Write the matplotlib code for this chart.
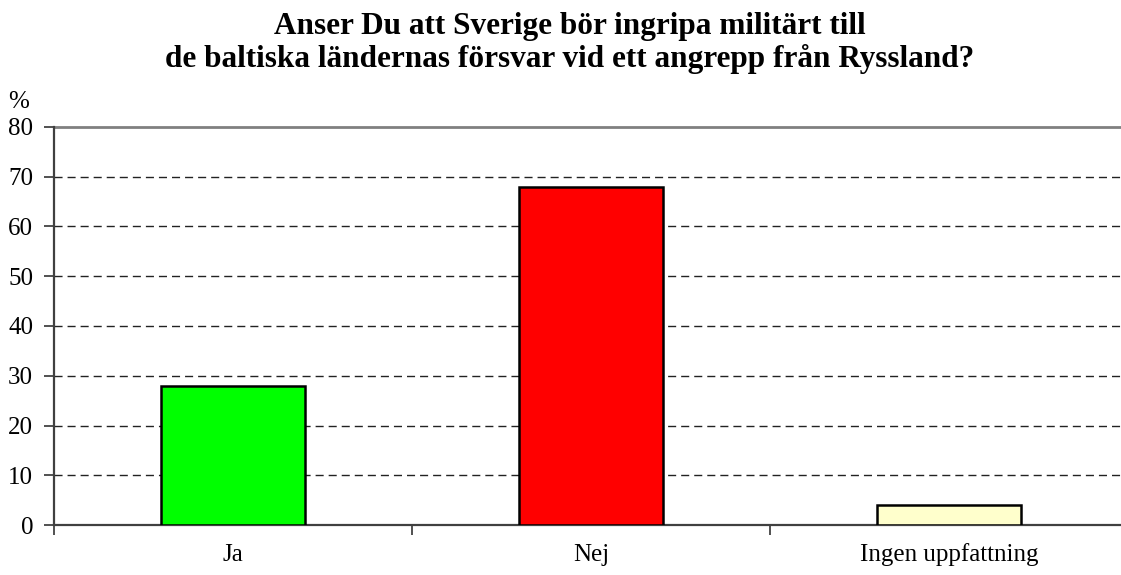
import matplotlib
matplotlib.use("Agg")
import matplotlib.pyplot as plt

categories = ["Ja", "Nej", "Ingen uppfattning"]
values = [28, 68, 4]
colors = ["#00FF00", "#FF0000", "#FFFFCC"]
yticks = [0, 10, 20, 30, 40, 50, 60, 70, 80]
title = "Anser Du att Sverige bör ingripa militärt till\nde baltiska ländernas försvar vid ett angrepp från Ryssland?"

plt.rcParams['font.family'] = ['Liberation Serif', 'DejaVu Serif']

W, H = 1121, 575
fig = plt.figure(figsize=(W / 100, H / 100), dpi=100)
left = 54 / W
bottom = (H - 525) / H
top = (H - 127) / H
ax = fig.add_axes([left, bottom, 1 - left, top - bottom])

x = list(range(len(categories)))
ax.bar(x, values, width=0.40, color=colors, edgecolor="black", linewidth=1.8, zorder=3)

ax.set_ylim(0, 80)
ax.set_xlim(-0.5, 2.5 - 7 / 358)
ax.set_yticks(yticks)
ax.set_yticklabels([str(v) for v in yticks], fontsize=18)
for v in yticks[1:-1]:
    ax.axhline(v, color="#222222", linestyle=(0, (5.8, 3.6)), linewidth=1.0, zorder=1)
ax.axhline(80, color="#808080", linewidth=2, zorder=2, clip_on=False)

ax.set_xticks([-0.5, 0.5, 1.5])
ax.set_xticklabels([])
ax.tick_params(axis="x", direction="out", length=7, width=1.2, color="#333333")
ax.tick_params(axis="y", direction="out", length=7, width=1.2, color="#333333", pad=8)
for i, c in enumerate(categories):
    ax.text(i, -6.0, c, ha="center", va="center", fontsize=18)

for s in ["top", "right"]:
    ax.spines[s].set_visible(False)
for s in ["left", "bottom"]:
    ax.spines[s].set_color("#404040")
    ax.spines[s].set_linewidth(1.6)

fig.text(570 / W, 1 - 43 / H, title, ha="center", va="center", fontsize=22.5,
         fontweight="bold", linespacing=1.1)
fig.text(19 / W, 1 - 102 / H, "%", ha="center", va="center", fontsize=18)

fig.savefig("out.png", dpi=100)
